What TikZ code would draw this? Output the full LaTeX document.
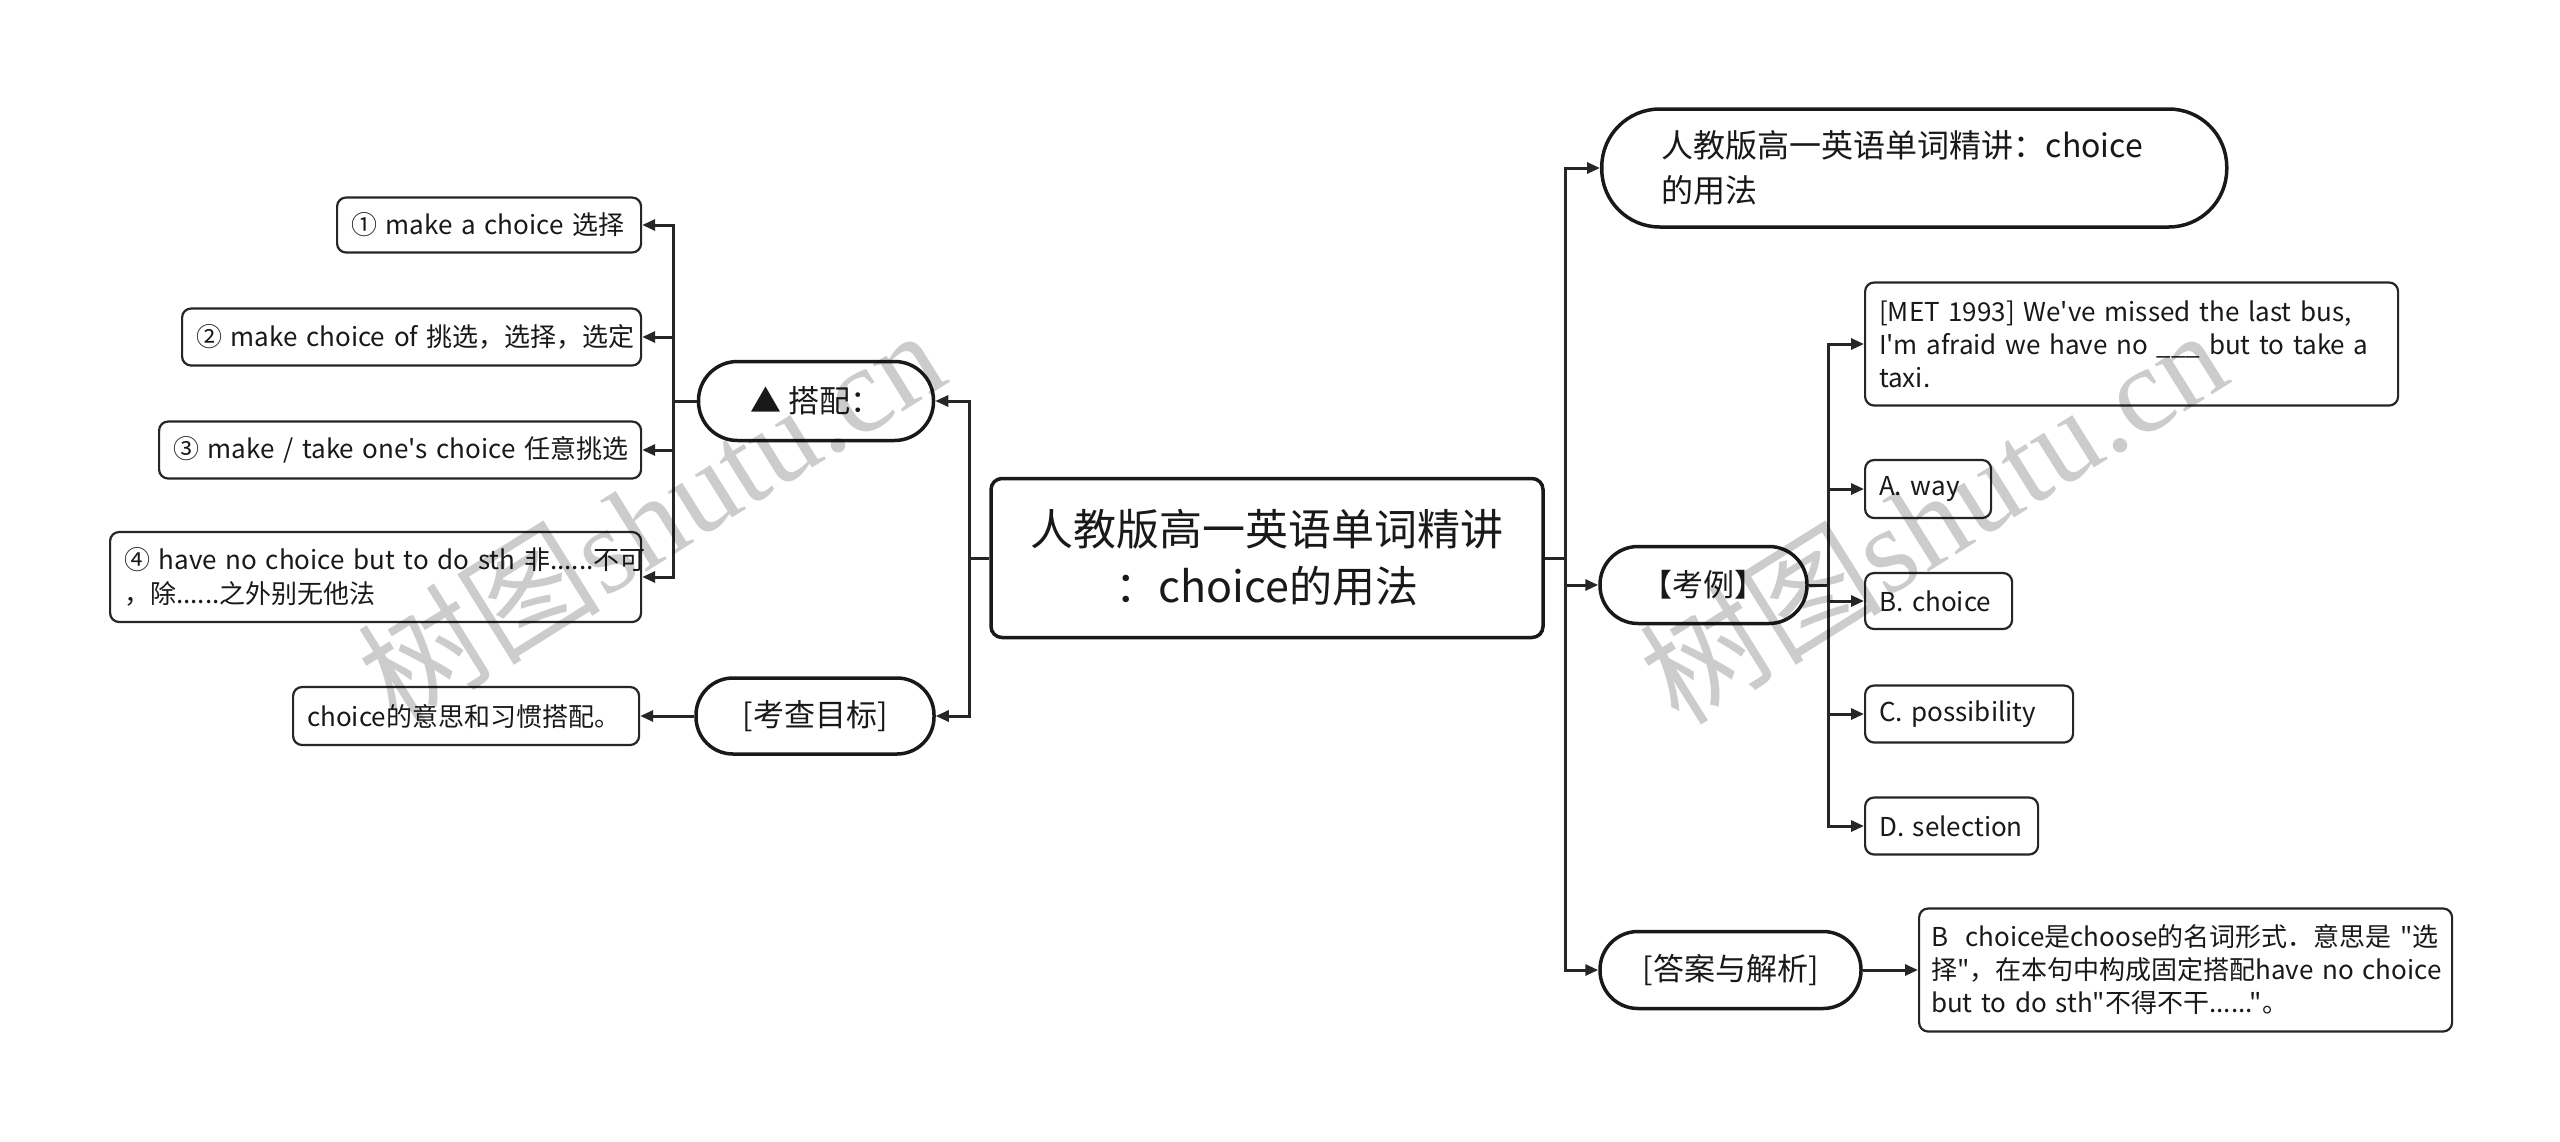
\documentclass[tikz,border=0pt]{standalone}
\usepackage{fontspec}
\setmainfont{Noto Sans CJK SC}[Ligatures=TeXOff]
\newfontfamily\wmserif{Liberation Serif}
\newfontfamily\wmcjk{Noto Sans CJK SC}
\usetikzlibrary{arrows.meta}
\newcommand\nb[1]{\mbox{#1}}
\tikzset{
  conn/.style={line width=3pt, draw=black!85, -{Triangle[length=13pt,width=11pt]}},
  box/.style={draw=black!85, line width=2.2pt, rounded corners=9pt, fill=white, align=left,
    inner xsep=14pt, inner ysep=0pt, anchor=west, text=black!90,
    font=\fontsize{26}{34}\selectfont},
  pill/.style={draw=black!90, line width=3.5pt, fill=white, align=center, inner sep=0pt,
    text=black!90, font=\fontsize{31}{42}\selectfont},
  rootbox/.style={draw=black!90, line width=3.5pt, rounded corners=11pt, fill=white,
    align=center, inner xsep=20pt, inner ysep=0pt, text width=512pt, minimum height=159pt,
    text=black!90, font=\fontsize{43}{57}\selectfont},
  wm/.style={text=black, opacity=0.2, rotate=32, inner sep=0pt,
    font=\fontsize{122}{122}\selectfont}
}
\begin{document}
\begin{tikzpicture}[x=1pt,y=-1pt]
\useasboundingbox (0,0) rectangle (2560,1141);
\fill[white] (0,0) rectangle (2560,1141);

% root
\node[rootbox] (root) at (1267,558) {\nb{人教版高一英语单词精讲}\\\nb{：choice的用法}};

% left level 1
\node[pill, minimum width=235pt, minimum height=79pt, rounded corners=39pt] (dapei) at (816,401) {▲ 搭配：};
\node[pill, minimum width=238pt, minimum height=76pt, rounded corners=37pt] (goal) at (815,716) {[考查目标]};

% left level 2
\node[box, text width=276pt, minimum height=55pt] (b1) at (336,225) {\nb{① make a choice 选择}};
\node[box, text width=431pt, minimum height=57pt] (b2) at (181,337) {\nb{② make choice of 挑选，选择，选定}};
\node[box, text width=454pt, minimum height=57pt] (b3) at (158,450) {\nb{③ make / take one's choice 任意挑选}};
\node[box, text width=503pt, minimum height=90pt] (b4) at (109,577) {\nb{④ have no choice but to do sth 非......不可}\\\nb{，除......之外别无他法}};
\node[box, text width=318pt, minimum height=58pt] (gt) at (292,716) {\nb{choice的意思和习惯搭配。}};

% right level 1
\node[pill, anchor=west, align=left, inner xsep=60pt, text width=505pt, minimum height=118pt, rounded corners=58pt, font=\fontsize{32}{45}\selectfont] (title) at (1600,168) {\nb{人教版高一英语单词精讲：choice}\\\nb{的用法}};
\node[pill, minimum width=207pt, minimum height=77pt, rounded corners=38pt] (kaoli) at (1703.5,585) {【考例】};
\node[pill, minimum width=261pt, minimum height=77pt, rounded corners=38pt] (ans) at (1730.5,970) {[答案与解析]};

% right level 2
\node[box, text width=505pt, minimum height=123pt, font=\fontsize{26}{33}\selectfont] (q) at (1864,344) {\nb{[MET 1993] We've missed the last bus,}\\\nb{I'm afraid we have no \_\_\_\ but to take a}\\\nb{taxi.}};
\node[box, text width=98pt, minimum height=58pt] (oa) at (1864,489) {\nb{A. way}};
\node[box, text width=119pt, minimum height=56pt] (ob) at (1864,601) {\nb{B. choice}};
\node[box, text width=180pt, minimum height=57pt] (oc) at (1864,714) {\nb{C. possibility}};
\node[box, text width=145pt, minimum height=57pt] (od) at (1864,826) {\nb{D. selection}};
\node[box, inner xsep=12pt, text width=509pt, minimum height=123pt, font=\fontsize{26}{33}\selectfont] (ab) at (1918,970) {\nb{B\ \ choice是choose的名词形式．意思是 "选}\\\nb{择"，在本句中构成固定搭配have no choice}\\\nb{but to do sth"不得不干......"。}};

% connectors
\draw[conn] (root.east) -- ++(21,0) |- (title.west);
\draw[conn] (root.east) -- ++(21,0) |- (kaoli.west);
\draw[conn] (root.east) -- ++(21,0) |- (ans.west);
\draw[conn] (root.west) -- ++(-20,0) |- (dapei.east);
\draw[conn] (root.west) -- ++(-20,0) |- (goal.east);
\draw[conn] (dapei.west) -- ++(-23,0) |- (b1.east);
\draw[conn] (dapei.west) -- ++(-23,0) |- (b2.east);
\draw[conn] (dapei.west) -- ++(-23,0) |- (b3.east);
\draw[conn] (dapei.west) -- ++(-23,0) |- (b4.east);
\draw[conn] (goal.west) -- (gt.east);
\draw[conn] (kaoli.east) -- ++(20,0) |- (q.west);
\draw[conn] (kaoli.east) -- ++(20,0) |- (oa.west);
\draw[conn] (kaoli.east) -- ++(20,0) |- (ob.west);
\draw[conn] (kaoli.east) -- ++(20,0) |- (oc.west);
\draw[conn] (kaoli.east) -- ++(20,0) |- (od.west);
\draw[conn] (ans.east) -- (ab.west);

% watermarks
\node[wm] (wm1) at (650,515) {\wmcjk 树图\wmserif shutu.cn};
\node[wm] (wm2) at (1932,515) {\wmcjk 树图\wmserif shutu.cn};
\end{tikzpicture}
\end{document}
